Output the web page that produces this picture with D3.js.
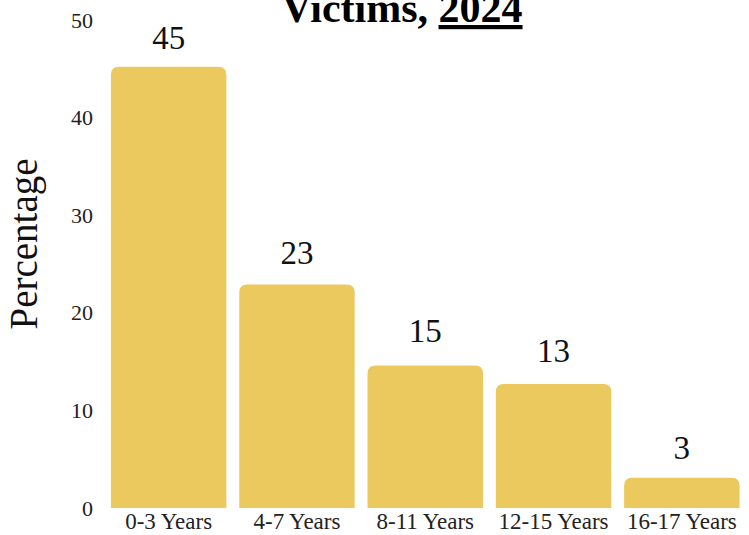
<!DOCTYPE html>
<html lang="en">
<head>
<meta charset="UTF-8">
<script src="https://cdn.jsdelivr.net/npm/d3@7"></script>
<title>Victims, 2024</title>
<style>
  body { margin: 0; background: #fff; }
  svg { display: block; font-family: "Liberation Serif", "DejaVu Serif", serif; }
</style>
</head>
<body>
<script>
var width = 749,
    height = 535;

var categories = ["0-3 Years", "4-7 Years", "8-11 Years", "12-15 Years", "16-17 Years"];
var values = [45.2, 22.9, 14.6, 12.7, 3.1];
var yTicks = [0, 10, 20, 30, 40, 50];

var svg = d3.select("body").append("svg")
    .attr("width", width).attr("height", height);

var x = d3.scaleBand()
    .domain(categories)
    .range([104.5, 746])
    .paddingInner(0.1)
    .paddingOuter(0.05);

var y = d3.scaleLinear()
    .domain([0, 50])
    .range([508, 20]);

// rounded top corners only
function barPath(x0, y0, w, h, r) {
    r = Math.min(r, h, w / 2);
    return "M" + x0 + "," + (y0 + h) +
        "V" + (y0 + r) +
        "Q" + x0 + "," + y0 + " " + (x0 + r) + "," + y0 +
        "H" + (x0 + w - r) +
        "Q" + (x0 + w) + "," + y0 + " " + (x0 + w) + "," + (y0 + r) +
        "V" + (y0 + h) + "Z";
}

svg.selectAll("path.bar").data(values)
    .enter()
    .append("path")
    .attr("class", "bar")
    .attr("fill", "#ebc95f")
    .attr("d", function(d, i){
        var x0 = x(categories[i]);
        return barPath(x0, y(d), x.bandwidth(), y(0) - y(d), 8);
    });

// value labels sit a little above the rounded value
svg.selectAll("text.val").data(values)
    .enter()
    .append("text")
    .attr("class", "val")
    .attr("text-anchor", "middle")
    .attr("font-size", "33px")
    .attr("fill", "#111")
    .attr("x", function(d, i){ return x(categories[i]) + x.bandwidth() / 2; })
    .attr("y", function(d){ return y(Math.round(d) + 2); })
    .text(function(d){ return Math.round(d); });

// y axis (labels only)
var yAxis = d3.axisLeft(y).tickValues(yTicks).tickSize(0).tickPadding(0);
var gy = svg.append("g")
    .attr("transform", "translate(93,0)")
    .call(yAxis);
gy.select(".domain").remove();
gy.selectAll("text")
    .attr("font-family", "Liberation Serif, serif")
    .attr("font-size", "22px")
    .attr("fill", "#222");

// x axis (labels only)
var xAxis = d3.axisBottom(x).tickSize(0).tickPadding(0);
var gx = svg.append("g")
    .attr("transform", "translate(0,513)")
    .call(xAxis);
gx.select(".domain").remove();
gx.selectAll("text")
    .attr("font-family", "Liberation Serif, serif")
    .attr("font-size", "23px")
    .attr("fill", "#222");

svg.append("text")
    .attr("transform", "translate(37,244) rotate(-90)")
    .attr("text-anchor", "middle")
    .attr("font-size", "39px")
    .attr("fill", "#111")
    .text("Percentage");

var title = svg.append("text")
    .attr("x", 402)
    .attr("y", 22)
    .attr("text-anchor", "middle")
    .attr("font-size", "42px")
    .attr("font-weight", "bold")
    .attr("fill", "#000");
title.append("tspan").text("Victims, ");
title.append("tspan").attr("text-decoration", "underline").text("2024");
</script>
</body>
</html>
